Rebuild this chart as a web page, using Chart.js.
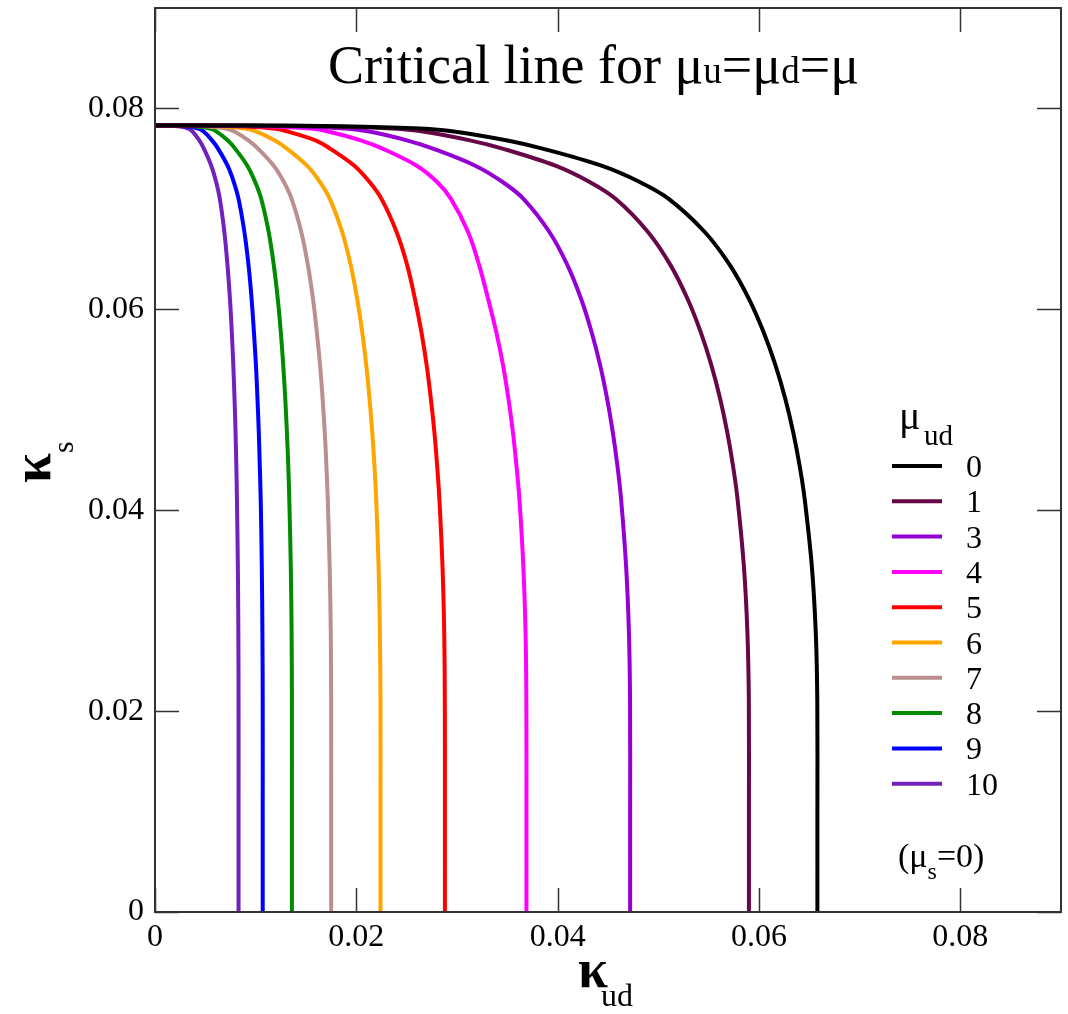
<!DOCTYPE html>
<html>
<head>
<meta charset="utf-8">
<script src="https://cdn.jsdelivr.net/npm/chart.js@4.4.1/dist/chart.umd.min.js"></script>
<style>
  html, body { margin: 0; padding: 0; background: #fff; }
  canvas { display: block; }
</style>
</head>
<body>
<canvas id="myChart" width="1068" height="1014"></canvas>
<script>
// mu_ud values shown in the legend
const muLabels = ['0', '1', '3', '4', '5', '6', '7', '8', '9', '10'];
const muColors = ['#000000', '#670748', '#9400d3', '#ff00ff', '#ff0000',
                  '#ffa500', '#bc8f8f', '#008b00', '#0000ff', '#7221bc'];

const ksLevels = [0.0783, 0.0783, 0.0782, 0.0780, 0.0777, 0.0768, 0.0760, 0.0743, 0.0727, 0.0710, 0.0677, 0.0644,
                  0.0610, 0.0577, 0.0544, 0.0511, 0.0478, 0.0444, 0.0411, 0.0344, 0.0278, 0.0211, 0.0100, 0];

// kappa_ud on each critical line (one array per mu_ud)
const kud0  = [0, 0.00987, 0.01974, 0.02632, 0.02968, 0.03501, 0.03849, 0.04435, 0.0481, 0.05103, 0.05461, 0.05711,
               0.05902, 0.06047, 0.06165, 0.06261, 0.06339, 0.06404, 0.06454, 0.06525, 0.06564, 0.06579, 0.0658, 0.0658];
const kud1  = [0, 0.00885, 0.0177, 0.0236, 0.02661, 0.03139, 0.03452, 0.03977, 0.04313, 0.04575, 0.04897, 0.05121,
               0.05292, 0.05422, 0.05528, 0.05614, 0.05684, 0.05742, 0.05787, 0.0585, 0.05885, 0.05899, 0.059, 0.059];
const kud3  = [0, 0.00708, 0.01416, 0.01888, 0.02129, 0.02511, 0.02761, 0.03181, 0.0345, 0.0366, 0.03918, 0.04097,
               0.04234, 0.04338, 0.04423, 0.04491, 0.04547, 0.04594, 0.0463, 0.0468, 0.04708, 0.04719, 0.0472, 0.0472];
const kud4  = [0, 0.0060, 0.0117, 0.0155, 0.0172, 0.0205, 0.0226, 0.0260, 0.0280, 0.0294, 0.0311, 0.0322,
               0.0331, 0.03391, 0.03458, 0.03511, 0.03555, 0.03591, 0.0362, 0.03659, 0.03681, 0.03689, 0.0369, 0.0369];
const kud5  = [0, 0.0045, 0.0090, 0.0118, 0.0132, 0.0160, 0.0174, 0.0198, 0.0213, 0.0225, 0.0240, 0.02505,
               0.02583, 0.02647, 0.02699, 0.0274, 0.02775, 0.02803, 0.02825, 0.02856, 0.02873, 0.02879, 0.0288, 0.0288];
const kud6  = [0, 0.00336, 0.00672, 0.00896, 0.0101, 0.01192, 0.0131, 0.0151, 0.01637, 0.01737, 0.01859, 0.01944,
               0.02009, 0.02059, 0.02099, 0.02131, 0.02158, 0.0218, 0.02197, 0.02221, 0.02234, 0.0224, 0.0224, 0.0224];
const kud7  = [0, 0.00263, 0.00525, 0.007, 0.00789, 0.00931, 0.01024, 0.0118, 0.01279, 0.01357, 0.01453, 0.01519,
               0.0157, 0.01608, 0.0164, 0.01665, 0.01686, 0.01703, 0.01716, 0.01735, 0.01746, 0.0175, 0.0175, 0.0175];
const kud8  = [0, 0.00204, 0.00408, 0.00544, 0.00613, 0.00724, 0.00796, 0.00917, 0.00994, 0.01055, 0.01129, 0.0118,
               0.0122, 0.0125, 0.01274, 0.01294, 0.0131, 0.01324, 0.01334, 0.01349, 0.01357, 0.0136, 0.0136, 0.0136];
const kud9  = [0, 0.00161, 0.00321, 0.00428, 0.00483, 0.00569, 0.00626, 0.00721, 0.00782, 0.0083, 0.00888, 0.00929,
               0.0096, 0.00983, 0.01003, 0.01018, 0.01031, 0.01041, 0.0105, 0.01061, 0.01067, 0.0107, 0.0107, 0.0107];
const kud10 = [0, 0.00125, 0.00249, 0.00332, 0.00374, 0.00442, 0.00486, 0.00559, 0.00607, 0.00644, 0.00689, 0.0072,
               0.00745, 0.00763, 0.00778, 0.0079, 0.008, 0.00808, 0.00814, 0.00823, 0.00828, 0.0083, 0.0083, 0.0083];

const curvesX = [kud0, kud1, kud3, kud4, kud5, kud6, kud7, kud8, kud9, kud10];

const SERIF = '"Liberation Serif", "Times New Roman", serif';

// draw a row of text pieces with their own size / vertical shift
const drawRuns = (ctx, x, y, runs) => {
    runs.forEach(r => {
        ctx.font = (r.bold ? 'bold ' : '') + r.size + 'px ' + SERIF;
        ctx.fillText(r.t, x, y + (r.dy || 0));
        x += ctx.measureText(r.t).width + (r.gap || 0);
    });
};

// frame, inward ticks, title, axis names and legend
const decor = {
    id: 'decor',
    afterDraw(chart) {
        const {ctx, chartArea: a, scales: {x, y}} = chart;
        ctx.save();
        ctx.strokeStyle = '#333';
        ctx.lineWidth = 2;
        ctx.strokeRect(a.left, a.top, a.right - a.left, a.bottom - a.top);

        ctx.lineWidth = 1.5;
        ctx.beginPath();
        x.ticks.forEach(t => {
            const px = Math.round(x.getPixelForValue(t.value)) + 0.5;
            ctx.moveTo(px, a.bottom); ctx.lineTo(px, a.bottom - 24);
            ctx.moveTo(px, a.top); ctx.lineTo(px, a.top + 24);
        });
        y.ticks.forEach(t => {
            const py = Math.round(y.getPixelForValue(t.value)) + 0.5;
            ctx.moveTo(a.left, py); ctx.lineTo(a.left + 24, py);
            ctx.moveTo(a.right, py); ctx.lineTo(a.right - 24, py);
        });
        ctx.stroke();

        ctx.fillStyle = '#000';
        ctx.textAlign = 'left';
        ctx.textBaseline = 'alphabetic';

        // title
        drawRuns(ctx, 328, 83, [
            {t: 'Critical line for ', size: 54},
            {t: 'μ', size: 54}, {t: 'u', size: 37},
            {t: '=', size: 54},
            {t: 'μ', size: 54}, {t: 'd', size: 37},
            {t: '=', size: 54},
            {t: 'μ', size: 54}
        ]);

        // x axis name
        drawRuns(ctx, 578, 987, [{t: 'κ', size: 54, bold: true}]);
        drawRuns(ctx, 601, 1006, [{t: 'ud', size: 32}]);

        // y axis name (rotated)
        ctx.save();
        ctx.translate(50, 483);
        ctx.rotate(-Math.PI / 2);
        drawRuns(ctx, 0, 0, [{t: 'κ', size: 54, bold: true}]);
        drawRuns(ctx, 30, 23, [{t: 's', size: 30}]);
        ctx.restore();

        // legend
        drawRuns(ctx, 899, 429, [{t: 'μ', size: 40}]);
        drawRuns(ctx, 924, 445, [{t: 'ud', size: 29}]);
        chart.data.datasets.forEach((ds, i) => {
            const ry = 466 + i * 35.3;
            ctx.strokeStyle = ds.borderColor;
            ctx.lineWidth = 4;
            ctx.beginPath();
            ctx.moveTo(892, ry); ctx.lineTo(942, ry);
            ctx.stroke();
            drawRuns(ctx, 966, ry + 11, [{t: ds.label, size: 32}]);
        });
        drawRuns(ctx, 898, 867, [
            {t: '(', size: 34},
            {t: 'μ', size: 34},
            {t: 's', size: 24, dy: 12},
            {t: '=0)', size: 34}
        ]);
        ctx.restore();
    }
};

const fmt = v => (v === 0 ? '0' : v.toFixed(2));

// drop the room Chart.js keeps for half tick labels at the plot edges
const noEdgePad = s => {
    s.paddingTop = 0; s.paddingBottom = 0;
    s.paddingLeft = 0; s.paddingRight = 0;
};

const renderChart = () => {
    const ctx = document.getElementById('myChart').getContext('2d');
    const datasets = muLabels.map((lab, i) => ({
        label: lab,
        data: curvesX[i].map((xv, j) => ({x: xv, y: ksLevels[j]})),
        borderColor: muColors[i],
        backgroundColor: muColors[i],
        borderWidth: 4,
        pointRadius: 0,
        fill: false,
        tension: 0.35,
        borderJoinStyle: 'round'
    }));

    // a line chart on a linear x scale, so the spline smoothing is applied
    new Chart(ctx, {
        type: 'line',
        data: {datasets: datasets},
        options: {
            responsive: false,
            animation: false,
            layout: {padding: {left: 0, top: 8, right: 7, bottom: 0}},
            plugins: {
                legend: {display: false},
                tooltip: {enabled: false}
            },
            scales: {
                x: {
                    type: 'linear', min: 0, max: 0.09,
                    afterFit: s => { s.height = 102; noEdgePad(s); },
                    ticks: {
                        stepSize: 0.02, includeBounds: false, padding: 6,
                        maxRotation: 0, color: '#000',
                        font: {family: SERIF, size: 32},
                        callback: fmt
                    },
                    grid: {drawOnChartArea: false, drawTicks: false},
                    border: {display: false}
                },
                y: {
                    type: 'linear', min: 0, max: 0.09,
                    afterFit: s => { s.width = 155; noEdgePad(s); },
                    ticks: {
                        stepSize: 0.02, includeBounds: false, padding: 11,
                        color: '#000',
                        font: {family: SERIF, size: 32},
                        callback: fmt
                    },
                    grid: {drawOnChartArea: false, drawTicks: false},
                    border: {display: false}
                }
            }
        },
        plugins: [decor]
    });
};

window.addEventListener('DOMContentLoaded', renderChart);
</script>
</body>
</html>
